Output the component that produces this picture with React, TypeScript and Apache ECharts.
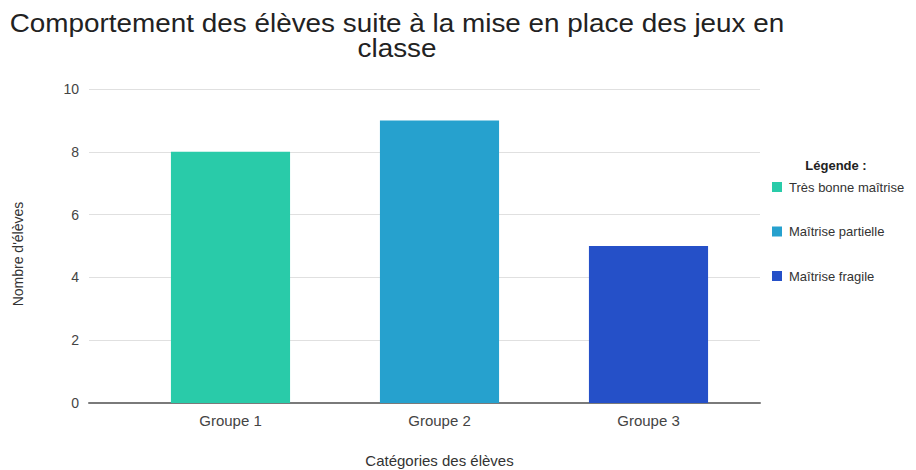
import React, { useEffect, useRef } from "react";
import * as echarts from "echarts";

const categories = ["Groupe 1", "Groupe 2", "Groupe 3"];
const seriesNames = ["Très bonne maîtrise", "Maîtrise partielle", "Maîtrise fragile"];
const seriesValues = [8, 9, 5];
const seriesColors = ["#29CBA9", "#26A1CE", "#2550C8"];
const yTicks = { min: 0, max: 10, interval: 2 };

const FONT = "'Liberation Sans', Arial, sans-serif";

export default function App() {
  const ref = useRef<HTMLDivElement>(null);
  useEffect(() => {
    if (!ref.current) return;
    const chart = echarts.init(ref.current, null, { renderer: "svg" });
    const series = seriesNames.map((name, i) => ({
      name,
      type: "bar",
      stack: "g",
      xAxisIndex: 1,
      yAxisIndex: 1,
      barWidth: "57%",
      itemStyle: { color: seriesColors[i] },
      data: categories.map((_, j) => (j === i ? seriesValues[i] : "-")),
      z: 3,
    }));
    chart.setOption({
      animation: false,
      textStyle: { fontFamily: FONT },
      graphic: [
        {
          type: "text",
          x: 397,
          y: 11,
          scaleX: 1.115,
          style: {
            text: "Comportement des élèves suite à la mise en place des jeux en\nclasse",
            textAlign: "center",
            fontSize: 25,
            lineHeight: 25,
            fontFamily: FONT,
            fill: "#222",
          },
        },
        {
          type: "text",
          x: 836,
          y: 159,
          style: {
            text: "Légende :",
            textAlign: "center",
            fontSize: 13,
            fontWeight: "bold",
            fontFamily: FONT,
            fill: "#222",
          },
        },
        {
          type: "text",
          x: 18,
          y: 254,
          rotation: Math.PI / 2,
          style: {
            text: "Nombre d'élèves",
            textAlign: "center",
            textVerticalAlign: "middle",
            fontSize: 14,
            fontFamily: FONT,
            fill: "#333",
          },
        },
      ],
      legend: {
        orient: "vertical",
        left: 772,
        top: 180,
        padding: 0,
        itemWidth: 10,
        itemHeight: 10,
        itemGap: 30.5,
        icon: "rect",
        data: seriesNames,
        textStyle: {
          fontSize: 13,
          lineHeight: 14,
          color: "#333",
          fontFamily: FONT,
          padding: [0, 0, 0, 2],
        },
      },
      grid: [
        { left: 89, right: 156, top: 89, bottom: 67, outerBoundsMode: "none", containLabel: false },
        { left: 126, right: 163, top: 89, bottom: 67, outerBoundsMode: "none", containLabel: false },
      ],
      xAxis: [
        {
          gridIndex: 0,
          type: "value",
          min: 0,
          max: 1,
          splitLine: { show: false },
          axisLabel: { show: false },
          axisTick: { show: false },
          axisLine: { show: true, lineStyle: { color: "#7a7a7a", width: 2 } },
        },
        {
          gridIndex: 1,
          type: "category",
          data: categories,
          axisLine: { show: false },
          axisTick: { show: false },
          axisLabel: { color: "#444", fontSize: 15, margin: 10, fontFamily: FONT },
          name: "Catégories des élèves",
          nameLocation: "middle",
          nameGap: 50,
          nameTextStyle: { color: "#333", fontSize: 15, fontFamily: FONT },
        },
      ],
      yAxis: [
        {
          gridIndex: 0,
          type: "value",
          min: yTicks.min,
          max: yTicks.max,
          interval: yTicks.interval,
          splitLine: { lineStyle: { color: "#e0e0e0", width: 1 } },
          axisLine: { show: false },
          axisTick: { show: false },
          axisLabel: { color: "#444", fontSize: 14, margin: 10, fontFamily: FONT },
        },
        {
          gridIndex: 1,
          type: "value",
          min: yTicks.min,
          max: yTicks.max,
          interval: yTicks.interval,
          show: false,
        },
      ],
      series,
    });
    return () => chart.dispose();
  }, []);
  return (
    <div
      ref={ref}
      style={{ position: "fixed", left: 0, top: 0, width: 916, height: 470, background: "#fff" }}
    />
  );
}
